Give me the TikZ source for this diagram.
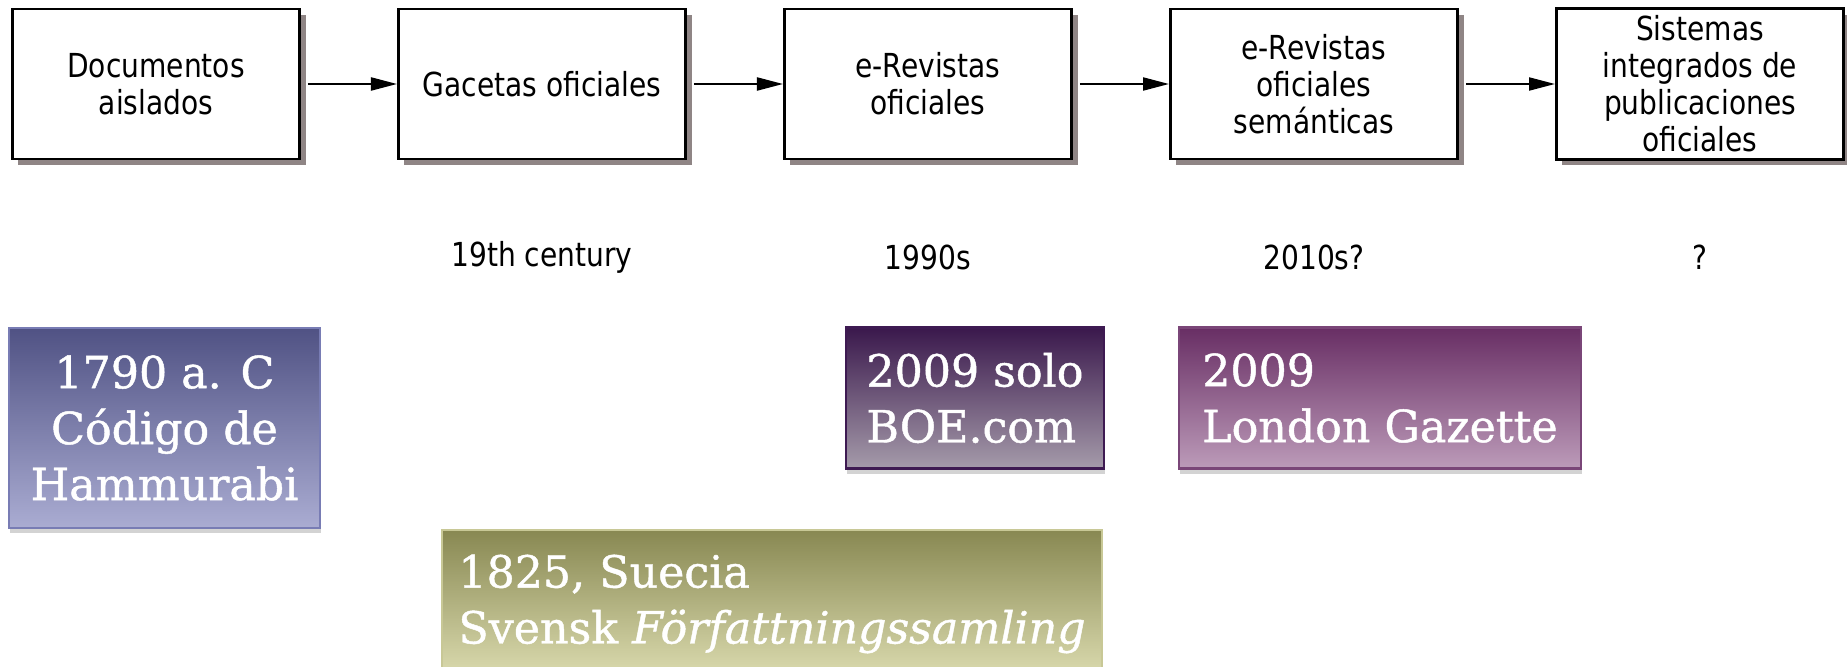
\documentclass[tikz,border=0pt]{standalone}
\usepackage{fontspec}
\setmainfont{DejaVu Sans}[FakeStretch=0.85]
\newfontfamily\slabfont{DejaVu Serif}[FakeBold=1]
\usetikzlibrary{shadows, arrows.meta}

\definecolor{boxshadow}{RGB}{143,133,133}
\definecolor{hamtop}{RGB}{80,82,132}
\definecolor{hambot}{RGB}{170,172,210}
\definecolor{hamline}{RGB}{120,124,180}
\definecolor{boetop}{RGB}{58,24,76}
\definecolor{boebot}{RGB}{165,155,170}
\definecolor{boeline}{RGB}{62,26,82}
\definecolor{lontop}{RGB}{104,46,100}
\definecolor{lonbot}{RGB}{188,155,185}
\definecolor{lonline}{RGB}{122,70,120}
\definecolor{svetop}{RGB}{136,136,82}
\definecolor{svebot}{RGB}{220,220,176}
\definecolor{sveline}{RGB}{200,200,150}

\begin{document}
\begin{tikzpicture}[x=0.01cm, y=-0.01cm,
  every node/.style={font=\fontsize{9.4}{10.5}\selectfont},
  stage/.style={draw, line width=0.8pt, fill=white, align=center,
    minimum width=2.87cm, minimum height=1.5cm, inner sep=2pt,
    drop shadow={shadow xshift=0.06cm, shadow yshift=-0.06cm, fill=boxshadow, opacity=1}},
  flow/.style={line width=0.6pt, -{Triangle[length=0.26cm, width=0.13cm]}},
  event/.style={align=left, text=white, inner sep=0pt, line width=0.6pt,
    font=\slabfont\fontsize{12.6}{15.9}\selectfont,
    drop shadow={shadow xshift=0.01cm, shadow yshift=-0.05cm, opacity=0.35}}]
\clip (0,0) rectangle (1847,667);

% Stages
\node[stage] (d1) at (156,84) {Documentos\\aislados};
\node[stage] (d2) at (542,84) {Gacetas oficiales};
\node[stage] (d3) at (928,84) {e-Revistas\\oficiales};
\node[stage] (d4) at (1314,84) {e-Revistas\\oficiales\\semánticas};
\node[stage] (d5) at (1700,84) {Sistemas\\integrados de\\publicaciones\\oficiales};

\foreach \a/\b in {d1/d2, d2/d3, d3/d4, d4/d5}
  \draw[flow] ([xshift=0.07cm]\a.east) -- (\b.west);

% Dates
\node (y2) at (542,257) {19th century};
\node (y3) at (928,257) {1990s};
\node (y4) at (1314,257) {2010s?};
\node (y5) at (1700,257) {?};

% Examples
\node[event, align=center, draw=hamline, top color=hamtop, bottom color=hambot,
  minimum width=3.11cm, minimum height=2.0cm] (ham) at (164.5,428)
  {1790 a. C\\Código de\\Hammurabi};
\node[event, draw=boeline, top color=boetop, bottom color=boebot,
  minimum width=2.58cm, minimum height=1.41cm] (boe) at (975,398)
  {2009 solo\\BOE.com};
\node[event, draw=lonline, top color=lontop, bottom color=lonbot,
  minimum width=4.02cm, minimum height=1.41cm] (lon) at (1380,398)
  {2009\\London Gazette};
\node[event, draw=sveline, top color=svetop, bottom color=svebot,
  minimum width=6.59cm, minimum height=1.48cm] (sve) at (772,604)
  {1825, Suecia\\Svensk \textit{Författningssamling}};
\end{tikzpicture}
\end{document}
